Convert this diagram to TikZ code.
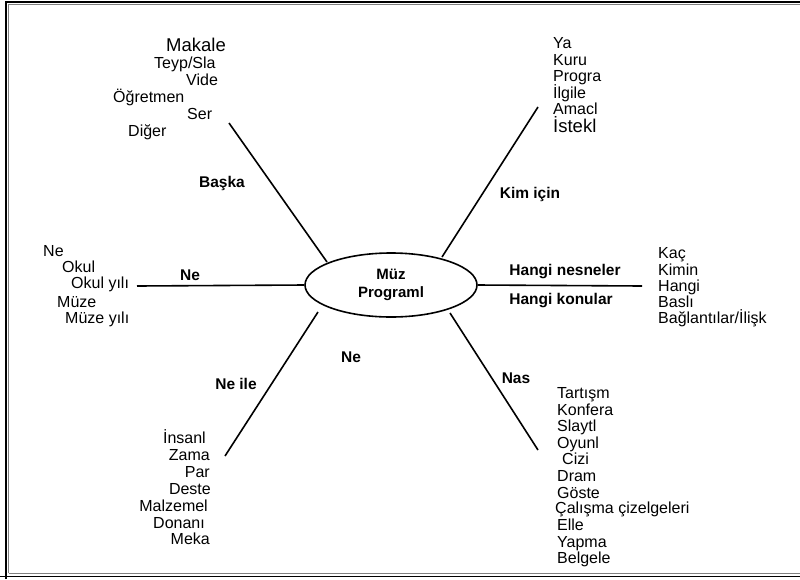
\documentclass[tikz,border=0pt]{standalone}
\usepackage{fontspec}
\setmainfont{Liberation Sans}
\usetikzlibrary{shapes.geometric}
\begin{document}
\begin{tikzpicture}[x=1pt,y=-1pt,
  lst/.style={anchor=base west,inner sep=0pt,font=\fontsize{16}{18}\selectfont},
  lstr/.style={anchor=base east,inner sep=0pt,font=\fontsize{16}{18}\selectfont},
  big/.style={font=\fontsize{18.5}{20}\selectfont},
  lbl/.style={inner sep=0pt,font=\fontsize{15.5}{18}\selectfont\bfseries},
  spoke/.style={line width=1.6pt},
  frameo/.style={line width=1.2pt,black},
  framei/.style={line width=1pt,gray}]
\useasboundingbox (0,0) rectangle (800,579);
% frame
\draw[frameo] (6,579) -- (6,2) -- (800,2);
\draw[framei] (8.5,573) -- (8.5,4.6) -- (800,4.6);
\draw[framei] (8.5,573.2) -- (800,573.2);
\draw[frameo] (0,576.6) -- (800,576.6);
% centre
\node[ellipse,draw,line width=1.6pt,minimum width=172,minimum height=64,inner sep=0pt,
  align=center,font=\fontsize{15}{18}\selectfont\bfseries] (c) at (391,285) {Müz\\Programl};
% spoke ends
\coordinate (ula) at (229,123); \coordinate (ulb) at (327,262);
\coordinate (ura) at (538,107); \coordinate (urb) at (442,257);
\coordinate (lla) at (225,456); \coordinate (llb) at (318,312);
\coordinate (lra) at (538,450); \coordinate (lrb) at (450,313);
\coordinate (la) at (137,286);
\coordinate (ra) at (642,286);
\draw[spoke] (ula) -- (ulb);
\draw[spoke] (ura) -- (urb);
\draw[spoke] (lla) -- (llb);
\draw[spoke] (lra) -- (lrb);
\draw[spoke] (la) -- (c.west);
\draw[spoke] (c.east) -- (ra);
% labels
\node[lbl] (l1) at (222,183) {Başka};
\node[lbl] (l2) at (530,194) {Kim için};
\node[lbl] (l3) at (190,275) {Ne};
\node[lbl] (l4) at (565,272) {Hangi nesneler};
\node[lbl] (l5) at (561,301) {Hangi konular};
\node[lbl] (l6) at (351,357) {Ne};
\node[lbl] (l7) at (236,384) {Ne ile};
\node[lbl] (l8) at (516,378) {Nas};
% top-left list
\node[lst,big] (a1) at (166,51) {Makale};
\node[lst] (a2) at (154,68.5) {Teyp/Sla};
\node[lst] (a3) at (186,85.5) {Vide};
\node[lst] (a4) at (113,102) {Öğretmen};
\node[lst] (a5) at (187,119) {Ser};
\node[lst] (a6) at (128,136) {Diğer};
% top-right list
\node[lst] (b1) at (553,48.5) {Ya};
\node[lst] (b2) at (553,65) {Kuru};
\node[lst] (b3) at (553,81.5) {Progra};
\node[lst] (b4) at (553,98) {İlgile};
\node[lst] (b5) at (553,114.5) {Amacl};
\node[lst,big] (b6) at (553,132) {İstekl};
% left list
\node[lst] (d1) at (43,256.5) {Ne};
\node[lst] (d2) at (62,272.5) {Okul};
\node[lst] (d3) at (71,288) {Okul yılı};
\node[lst] (d4) at (57,307.5) {Müze};
\node[lst] (d5) at (65,323.5) {Müze yılı};
% right list
\node[lst] (e1) at (658,258.5) {Kaç};
\node[lst] (e2) at (658,275) {Kimin};
\node[lst] (e3) at (658,291) {Hangi};
\node[lst] (e4) at (658,307.5) {Baslı};
\node[lst] (e5) at (658,323) {Bağlantılar/İlişk};
% lower-left list
\node[lstr] (f1) at (206,443.5) {İnsanl};
\node[lstr] (f2) at (210,460.5) {Zama};
\node[lstr] (f3) at (210,477.5) {Par};
\node[lstr] (f4) at (211,494.5) {Deste};
\node[lstr] (f5) at (208,511.5) {Malzemel};
\node[lstr] (f6) at (205,528.5) {Donanı};
\node[lstr] (f7) at (210,544.5) {Meka};
% lower-right list
\node[lst] (g1) at (557,398.5) {Tartışm};
\node[lst] (g2) at (557,415.5) {Konfera};
\node[lst] (g3) at (557,431.5) {Slaytl};
\node[lst] (g4) at (557,448.5) {Oyunl};
\node[lst] (g5) at (562,464.5) {Cizi};
\node[lst] (g6) at (557,481.5) {Dram};
\node[lst] (g7) at (557,498.5) {Göste};
\node[lst] (g8) at (555,513.5) {Çalışma çizelgeleri};
\node[lst] (g9) at (557,530.5) {Elle};
\node[lst] (g10) at (557,547.5) {Yapma};
\node[lst] (g11) at (557,563.5) {Belgele};
\end{tikzpicture}
\end{document}
